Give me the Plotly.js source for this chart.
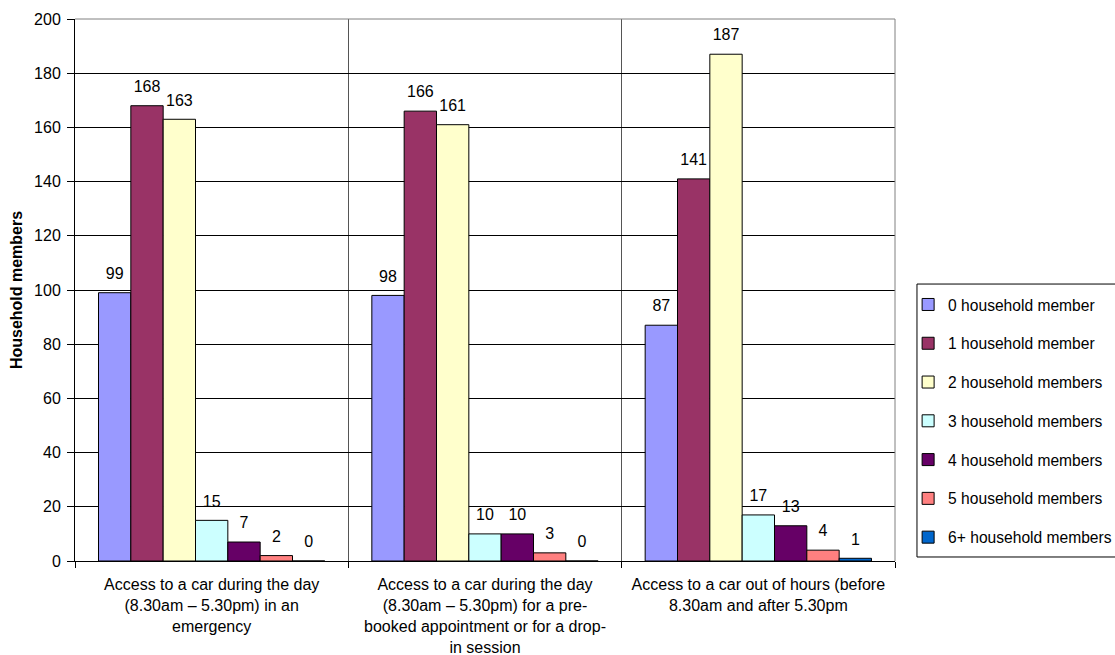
<!DOCTYPE html>
<html>
<head>
<meta charset="utf-8">
<script src="https://cdn.plot.ly/plotly-3.0.1.min.js"></script>
<style>
  html, body { margin: 0; padding: 0; background: #fff; }
  #chart { width: 1115px; height: 655px; }
</style>
</head>
<body>
<div id="chart"></div>
<script>
// Car access questions (x categories)
const categories = [
  "Access to a car during the day<br>(8.30am – 5.30pm) in an<br>emergency",
  "Access to a car during the day<br>(8.30am – 5.30pm) for a pre-<br>booked appointment or for a drop-<br>in session",
  "Access to a car out of hours (before<br>8.30am and after 5.30pm"
];

// Series names
const seriesNames = [
  "0 household member",
  "1 household member",
  "2 household members",
  "3 household members",
  "4 household members",
  "5 household members",
  "6+ household members"
];

// Counts per series, one value per category
const zeroMembers  = [99, 98, 87];
const oneMember    = [168, 166, 141];
const twoMembers   = [163, 161, 187];
const threeMembers = [15, 10, 17];
const fourMembers  = [7, 10, 13];
const fiveMembers  = [2, 3, 4];
const sixPlus      = [0, 0, 1];

const seriesValues = [zeroMembers, oneMember, twoMembers, threeMembers, fourMembers, fiveMembers, sixPlus];

const seriesColors = ["#9999FF", "#993366", "#FFFFCC", "#CCFFFF", "#660066", "#FF8080", "#0066CC"];

const FONT = "Liberation Sans, Arial, sans-serif";
const GAP = 0.172;

const traces = [];
seriesValues.forEach((vals, i) => {
  traces.push({
    type: "bar",
    name: seriesNames[i],
    x: categories,
    y: vals,
    offsetgroup: String(i),
    legendgroup: "g" + i,
    marker: { color: seriesColors[i], line: { color: "#000000", width: 1 } },
    hoverinfo: "skip"
  });
});
// value labels, grouped the same way as the bars
seriesValues.forEach((vals, i) => {
  traces.push({
    type: "scatter",
    mode: "markers+text",
    x: categories,
    y: vals,
    offsetgroup: String(i),
    text: vals.map(String),
    textposition: "top center",
    textfont: { family: FONT, size: 16, color: "#000000" },
    marker: { size: 14, opacity: 0 },
    showlegend: false,
    cliponaxis: false,
    hoverinfo: "skip"
  });
});

const layout = {
  width: 1115,
  height: 655,
  margin: { l: 75, r: 220, t: 19, b: 94, autoexpand: false },
  paper_bgcolor: "#ffffff",
  plot_bgcolor: "#ffffff",
  font: { family: FONT, size: 16, color: "#000000" },
  barmode: "group",
  bargap: GAP,
  bargroupgap: 0,
  scattermode: "group",
  scattergap: GAP,
  showlegend: true,
  legend: {
    x: 1.016, xanchor: "left",
    y: 0.504, yanchor: "top",
    bgcolor: "rgba(0,0,0,0)",
    borderwidth: 0,
    tracegroupgap: 15.5,
    font: { family: FONT, size: 15.6, color: "#000000" }
  },
  xaxis: {
    type: "category",
    tickson: "boundaries",
    ticks: "outside",
    ticklen: 6,
    tickcolor: "#000000",
    showline: true,
    linecolor: "#000000",
    linewidth: 1,
    showgrid: true,
    gridcolor: "#555555",
    gridwidth: 1,
    ticklabelstandoff: 9,
    tickfont: { family: FONT, size: 16, color: "#000000" },
    fixedrange: true
  },
  yaxis: {
    range: [0, 200],
    dtick: 20,
    ticks: "outside",
    ticklen: 7,
    tickcolor: "#000000",
    showline: true,
    linecolor: "#000000",
    linewidth: 1,
    showgrid: true,
    gridcolor: "#000000",
    gridwidth: 1,
    zeroline: false,
    ticklabelstandoff: 3,
    tickfont: { family: FONT, size: 16, color: "#000000" },
    title: { text: "<b>Household members</b>", font: { family: FONT, size: 16, color: "#000000" }, standoff: 7 },
    fixedrange: true
  },
  shapes: [
    // plot area border (top and right)
    { type: "line", xref: "paper", yref: "paper", x0: 0, x1: 1, y0: 1, y1: 1, line: { color: "#808080", width: 1 } },
    { type: "line", xref: "paper", yref: "paper", x0: 1, x1: 1, y0: 0, y1: 1, line: { color: "#808080", width: 1 } },
    // legend frame
    { type: "rect", xref: "paper", yref: "paper", x0: 1.0268, x1: 1.27, y0: 0.0074, y1: 0.511,
      line: { color: "#000000", width: 1 }, fillcolor: "rgba(0,0,0,0)" }
  ]
};

Plotly.newPlot("chart", traces, layout, { displayModeBar: false, staticPlot: true });
</script>
</body>
</html>
